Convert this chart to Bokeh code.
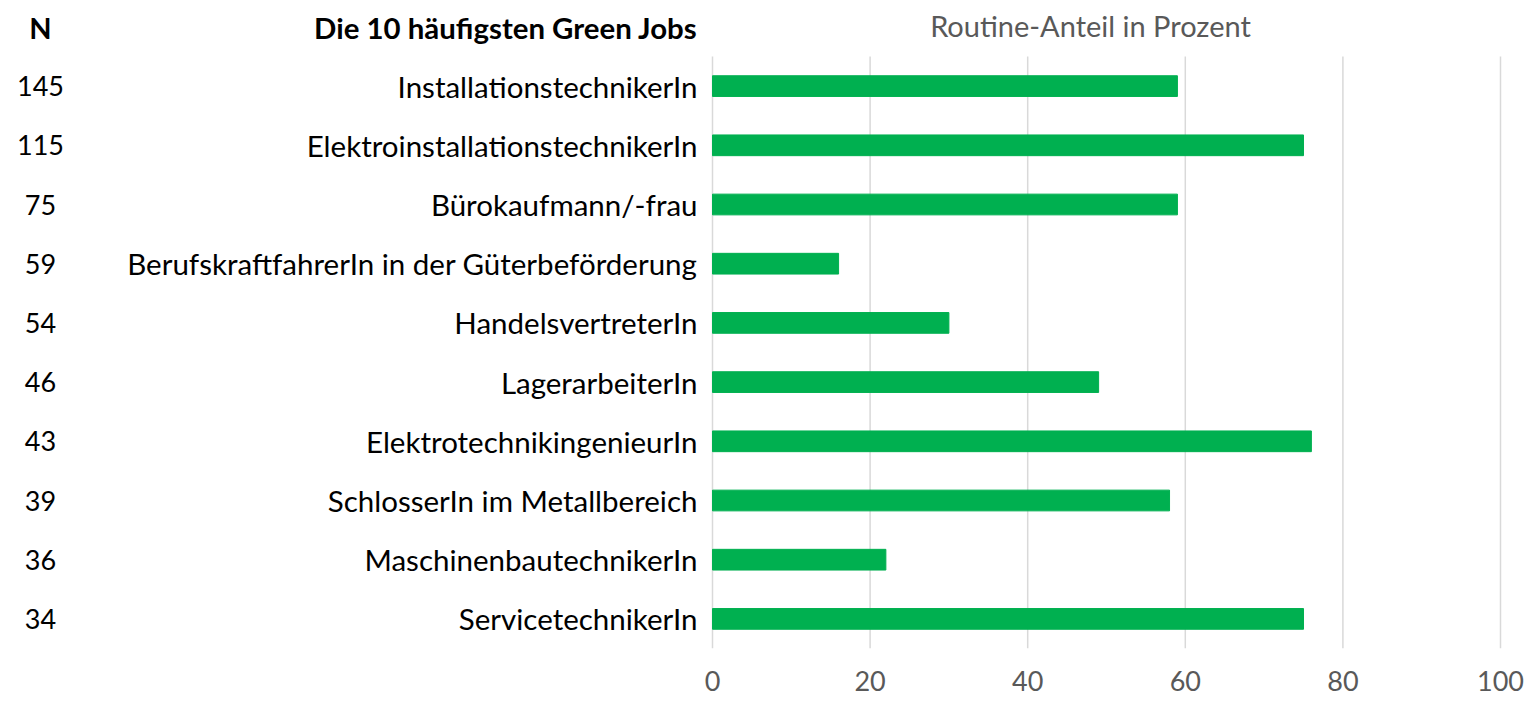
from bokeh.plotting import figure
from bokeh.models import Range1d, FixedTicker
from bokeh.core.properties import value
from bokeh.embed import file_html
from bokeh.resources import INLINE

jobs = ["InstallationstechnikerIn", "ElektroinstallationstechnikerIn", "Bürokaufmann/-frau",
        "BerufskraftfahrerIn in der Güterbeförderung", "HandelsvertreterIn", "LagerarbeiterIn",
        "ElektrotechnikingenieurIn", "SchlosserIn im Metallbereich", "MaschinenbautechnikerIn",
        "ServicetechnikerIn"]
counts = [145, 115, 75, 59, 54, 46, 43, 39, 36, 34]
routine = [59, 75, 59, 16, 30, 49, 76, 58, 22, 75]
x_ticks = [0, 20, 40, 60, 80, 100]
headers = ["N", "Die 10 häufigsten Green Jobs"]
axis_title = "Routine-Anteil in Prozent"

FONT = value("Lato")
rows = list(range(len(jobs)))
n_rows = len(jobs)

PX = 7.88          # pixels per percent
X0 = 712           # pixel of 0 %
FW = 1525
band = 59.2
top_pad = 56

x_start = -X0 / PX
x_end = (FW - X0) / PX
y_top = -0.5 - top_pad / band

p = figure(frame_width=FW, frame_height=648, min_border=0, min_border_bottom=53,
           x_range=Range1d(x_start, x_end), y_range=Range1d(n_rows - 0.5, y_top),
           output_backend="svg", toolbar_location=None)
p.outline_line_color = None
p.background_fill_color = "white"
p.border_fill_color = "white"
p.yaxis.visible = False
p.xgrid.grid_line_color = None
p.ygrid.grid_line_color = None

# vertical gridlines
p.segment(x0=x_ticks, x1=x_ticks, y0=[-0.5] * len(x_ticks), y1=[n_rows - 0.5] * len(x_ticks),
          line_color="#D9D9D9", line_width=1.5)

# bars
p.hbar(y=rows, right=routine, left=0, height=0.35, color="#00B050")

# category labels
p.text(x=[(697 - X0) / PX] * n_rows, y=rows, text=jobs, text_align="right",
       text_baseline="middle", text_font=FONT, text_font_size="29.5px", text_color="black")

# N column
n_x = (40 - X0) / PX
p.text(x=[n_x] * n_rows, y=rows, text=[str(c) for c in counts], text_align="center",
       text_baseline="middle", text_font=FONT, text_font_size="27px", text_color="black")

# headers
hy = (27 - 85.6) / band
p.text(x=[n_x], y=[hy], text=[headers[0]], text_align="center", text_baseline="middle",
       text_font=FONT, text_font_size="29px", text_font_style="bold", text_color="black")
p.text(x=[(697 - X0) / PX], y=[hy], text=[headers[1]], text_align="right", text_baseline="middle",
       text_font=FONT, text_font_size="29.4px", text_font_style="bold", text_color="black")
p.text(x=[(1090 - X0) / PX], y=[(25 - 85.6) / band], text=[axis_title], text_align="center",
       text_baseline="middle", text_font=FONT, text_font_size="29px", text_color="#595959")

# x axis
p.xaxis.ticker = FixedTicker(ticks=x_ticks)
p.xaxis.bounds = (0, 100)
p.xaxis.axis_line_color = None
p.xaxis.major_tick_line_color = None
p.xaxis.minor_tick_line_color = None
p.xaxis.major_label_text_font = "Lato"
p.xaxis.major_label_text_font_size = "27px"
p.xaxis.major_label_text_color = "#595959"
p.xaxis.major_label_standoff = 16

open("out.html", "w").write(file_html(p, INLINE))
